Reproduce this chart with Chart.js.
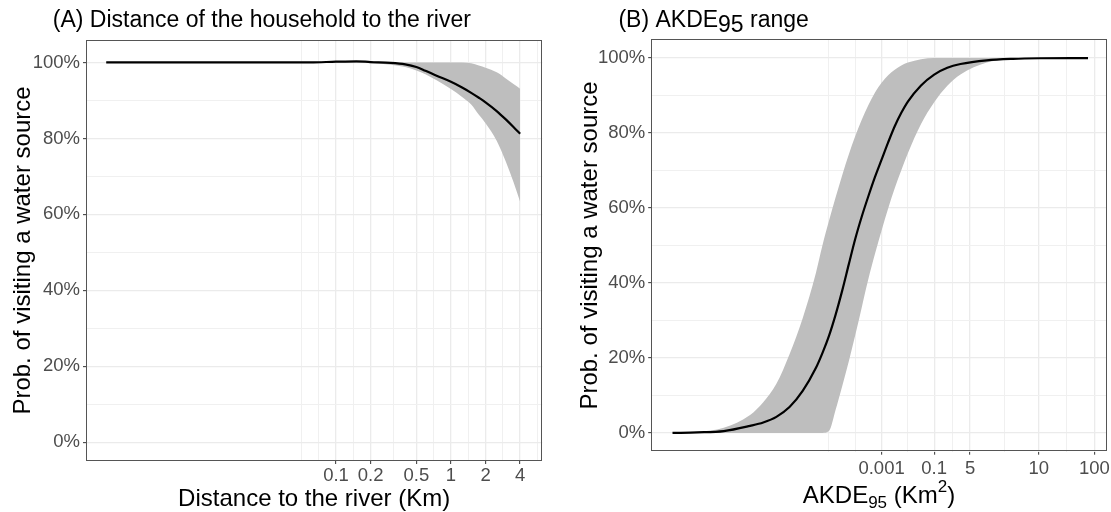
<!DOCTYPE html>
<html>
<head>
<meta charset="utf-8">
<script src="https://cdn.jsdelivr.net/npm/chart.js@4.4.0/dist/chart.umd.min.js"></script>
<style>
    html, body { margin: 0; padding: 0; background: #fff; }
    #wrap { position: relative; width: 1111px; height: 512px; }
    .panel { position: absolute; top: 0; height: 512px; }
    #panelA { left: 0; width: 555px; }
    #panelB { left: 555px; width: 556px; }
</style>
</head>
<body>
<div id="wrap">
    <div class="panel" id="panelA"><canvas id="chartA"></canvas></div>
    <div class="panel" id="panelB"><canvas id="chartB"></canvas></div>
</div>
<script>
// Panel A - distance of the household to the river (Km, log axis)
const distKm = [0.001, 0.003, 0.01, 0.03, 0.06, 0.1, 0.15, 0.2, 0.3, 0.4, 0.5, 0.6, 0.75, 1, 1.25, 1.5, 1.75, 2, 2.5, 3, 3.5, 4];
const distMean = [100, 100, 100, 100, 100, 100.2, 100.3, 100.1, 99.9, 99.5, 98.8, 97.8, 96.5, 94.9, 93.4, 92.0, 90.7, 89.5, 87.2, 85.0, 83.0, 81.2];
const distUpper = [100, 100, 100, 100, 100.1, 100.3, 100.4, 100.3, 100.1, 100, 100, 100, 100, 100, 100, 99.8, 99.2, 98.6, 97.4, 95.8, 94.3, 93.1];
const distLower = [99.9, 99.9, 99.9, 99.9, 99.9, 99.9, 99.9, 99.8, 99.4, 98.8, 97.9, 96.9, 95.3, 93.0, 90.9, 88.9, 86.2, 84.0, 79.4, 73.9, 68.5, 63.3];
const distTicks = [0.1, 0.2, 0.5, 1, 2, 4];
const distTickLabels = ['0.1', '0.2', '0.5', '1', '2', '4'];
const distMinorTicks = [0.05, 0.0707, 0.1414, 0.3162, 0.7071, 1.414, 2.828, 5.657];

// Panel B - AKDE95 range (position on the transformed AKDE axis)
const akdePos = [-7.95, -7, -6, -5, -4.5, -4, -3.5, -3, -2.5, -2.25, -2, -1.75, -1.5, -1.25, -1, -0.75, -0.5, -0.25, 0, 0.25, 0.5, 0.75, 1, 1.5, 2, 2.5, 3, 4, 5, 6, 7.85];
const akdeMean = [0, 0.15, 0.5, 1.9, 2.8, 4.3, 6.9, 11.2, 17.3, 21.3, 25.9, 31.5, 37.9, 44.9, 51.8, 57.8, 63.2, 68.3, 72.9, 77.5, 81.8, 85.4, 88.4, 92.7, 95.6, 97.4, 98.4, 99.4, 99.8, 99.95, 100];
const akdeUpper = [0, 0.3, 1.4, 4.8, 8.2, 13.1, 21.0, 30.6, 42.6, 50.0, 56.6, 62.8, 68.7, 74.2, 79.2, 83.6, 87.5, 90.8, 93.4, 95.4, 96.9, 98.0, 98.8, 99.7, 100, 100, 100, 100, 100, 100, 100];
const akdeLower = [0, 0, 0, 0, 0, 0, 0, 0, 0, 0, 0.5, 6.1, 12.4, 19.0, 26.1, 33.6, 41.1, 47.8, 54.0, 59.9, 65.3, 70.1, 74.6, 82.4, 88.2, 92.6, 95.6, 98.8, 99.8, 99.95, 100];
const akdeTicks = [0, 2, 3.365, 5.98, 8.09];
const akdeTickLabels = ['0.001', '0.1', '5', '10', '100'];
const akdeMinorTicks = [-2, -1, 1, 2.68, 4.67, 7.035];

// Shared y axis
const probTicks = [0, 20, 40, 60, 80, 100];
const probMinorTicks = [10, 30, 50, 70, 90];

const FONT = "'Liberation Sans', Arial, Helvetica, sans-serif";
const BAND = 'rgb(190, 190, 190)';
const GRID_MAJOR = '#EBEBEB';
const GRID_MINOR = '#F0F0F0';
const TICK_TEXT = '#4D4D4D';
const TICK_SIZE = 18.5;

Chart.defaults.font.family = FONT;

function tickBuilder(major, labels, minor) {
    return scale => {
        const ticks = major.map((v, i) => ({ value: v, lab: labels[i], minor: false }))
            .concat(minor.map(v => ({ value: v, lab: '', minor: true })));
        ticks.sort((a, b) => a.value - b.value);
        scale.ticks = ticks;
    };
}

function gridOptions() {
    return {
        color: c => (c.tick && c.tick.minor ? GRID_MINOR : GRID_MAJOR),
        lineWidth: c => (c.tick && c.tick.minor ? 1 : 1.3),
        tickColor: c => (c.tick && c.tick.minor ? 'rgba(0,0,0,0)' : '#333'),
        tickWidth: 1,
        tickLength: 3,
        drawTicks: true
    };
}

function fixedSize(prop, size) {
    return scale => {
        scale[prop] = size;
        scale.paddingLeft = 0;
        scale.paddingRight = 0;
        scale.paddingTop = 0;
        scale.paddingBottom = 0;
    };
}

// Panel frame drawn above the data, like ggplot's panel.border
const panelBorder = {
    id: 'panelBorder',
    afterDatasetsDraw(chart) {
        const { ctx, chartArea: a } = chart;
        ctx.save();
        ctx.strokeStyle = '#555';
        ctx.lineWidth = 1;
        ctx.strokeRect(Math.round(a.left) + 0.5, Math.round(a.top) + 0.5,
            Math.round(a.right - a.left) - 1, Math.round(a.bottom - a.top) - 1);
        ctx.restore();
    }
};

// Text with sub/superscripts (titles)
const richText = {
    id: 'richText',
    afterDraw(chart, args, opts) {
        const ctx = chart.ctx;
        (opts.items || []).forEach(item => {
            ctx.save();
            ctx.fillStyle = '#000';
            ctx.textBaseline = 'alphabetic';
            ctx.textAlign = 'left';
            const widths = item.parts.map(p => {
                ctx.font = `${p.size}px ${FONT}`;
                return ctx.measureText(p.text).width;
            });
            const total = widths.reduce((a, b) => a + b, 0);
            let x = item.align === 'center' ? item.x - total / 2 : item.x;
            item.parts.forEach((p, i) => {
                ctx.font = `${p.size}px ${FONT}`;
                ctx.fillText(p.text, x, item.y + (p.dy || 0));
                x += widths[i];
            });
            ctx.restore();
        });
    }
};

function yAxis(min, max, width, titlePad) {
    return {
        min: min,
        max: max,
        afterBuildTicks: tickBuilder(probTicks, probTicks.map(v => `${v}%`), probMinorTicks),
        afterFit: fixedSize('width', width),
        border: { display: false },
        grid: gridOptions(),
        ticks: {
            autoSkip: false,
            padding: 3,
            color: TICK_TEXT,
            font: { size: TICK_SIZE },
            callback: (v, i, ticks) => ticks[i].lab
        },
        title: {
            display: true,
            text: 'Prob. of visiting a water source',
            color: '#000',
            font: { size: 24, lineHeight: 1 },
            padding: { top: titlePad, bottom: 0 }
        }
    };
}

function bandDatasets(xs, mean, upper, lower) {
    const pts = ys => xs.map((x, i) => ({ x: x, y: ys[i] }));
    const common = { pointRadius: 0, cubicInterpolationMode: 'monotone' };
    return [
        { ...common, label: 'mean', data: pts(mean), borderColor: '#000', borderWidth: 2.2, fill: false },
        { ...common, label: 'upper', data: pts(upper), borderColor: 'rgba(0,0,0,0)', borderWidth: 0, backgroundColor: BAND, fill: '+1' },
        { ...common, label: 'lower', data: pts(lower), borderColor: 'rgba(0,0,0,0)', borderWidth: 0, fill: false }
    ];
}

function renderDistanceChart() {
    new Chart(document.getElementById('chartA'), {
        type: 'line',
        data: { datasets: bandDatasets(distKm, distMean, distUpper, distLower) },
        options: {
            responsive: true,
            maintainAspectRatio: false,
            animation: false,
            layout: { padding: { left: 0, right: 12.7, top: 40, bottom: 0 } },
            plugins: {
                legend: { display: false },
                tooltip: { enabled: false },
                richText: {
                    items: [
                        { x: 52.8, y: 27.3, parts: [{ text: '(A) Distance of the household to the river', size: 23 }] }
                    ]
                }
            },
            scales: {
                x: {
                    type: 'logarithmic',
                    min: 0.000667,
                    max: 6.237,
                    afterBuildTicks: tickBuilder(distTicks, distTickLabels, distMinorTicks),
                    afterFit: fixedSize('height', 51),
                    border: { display: false },
                    grid: gridOptions(),
                    ticks: {
                        autoSkip: false,
                        maxRotation: 0,
                        padding: 1,
                        color: TICK_TEXT,
                        font: { size: TICK_SIZE },
                        callback: (v, i, ticks) => ticks[i].lab
                    },
                    title: {
                        display: true,
                        text: 'Distance to the river (Km)',
                        color: '#000',
                        font: { size: 24, lineHeight: 1 },
                        padding: { top: 0, bottom: 1 }
                    }
                },
                y: yAxis(-4.9, 105.9, 86, 11.5)
            }
        },
        plugins: [panelBorder, richText]
    });
}

function renderAkdeChart() {
    new Chart(document.getElementById('chartB'), {
        type: 'line',
        data: { datasets: bandDatasets(akdePos, akdeMean, akdeUpper, akdeLower) },
        options: {
            responsive: true,
            maintainAspectRatio: false,
            animation: false,
            layout: { padding: { left: 0, right: 4.3, top: 39.3, bottom: 0 } },
            plugins: {
                legend: { display: false },
                tooltip: { enabled: false },
                richText: {
                    items: [
                        {
                            x: 63.4, y: 27.3, parts: [
                                { text: '(B) AKDE', size: 23 },
                                { text: '95', size: 23, dy: 4.4 },
                                { text: ' range', size: 23 }
                            ]
                        },
                        {
                            x: 324, y: 503.3, align: 'center', parts: [
                                { text: 'AKDE', size: 24 },
                                { text: '95', size: 17, dy: 5 },
                                { text: ' (Km', size: 24 },
                                { text: '2', size: 17, dy: -11.6 },
                                { text: ')', size: 24 }
                            ]
                        }
                    ]
                }
            },
            scales: {
                x: {
                    type: 'linear',
                    min: -8.76,
                    max: 8.56,
                    afterBuildTicks: tickBuilder(akdeTicks, akdeTickLabels, akdeMinorTicks),
                    afterFit: fixedSize('height', 512 - 451.7),
                    border: { display: false },
                    grid: gridOptions(),
                    ticks: {
                        autoSkip: false,
                        maxRotation: 0,
                        padding: 3,
                        color: TICK_TEXT,
                        font: { size: TICK_SIZE },
                        callback: (v, i, ticks) => ticks[i].lab
                    },
                    title: { display: false }
                },
                y: yAxis(-5, 105, 96.2, 23)
            }
        },
        plugins: [panelBorder, richText]
    });
}

renderDistanceChart();
renderAkdeChart();
</script>
</body>
</html>
